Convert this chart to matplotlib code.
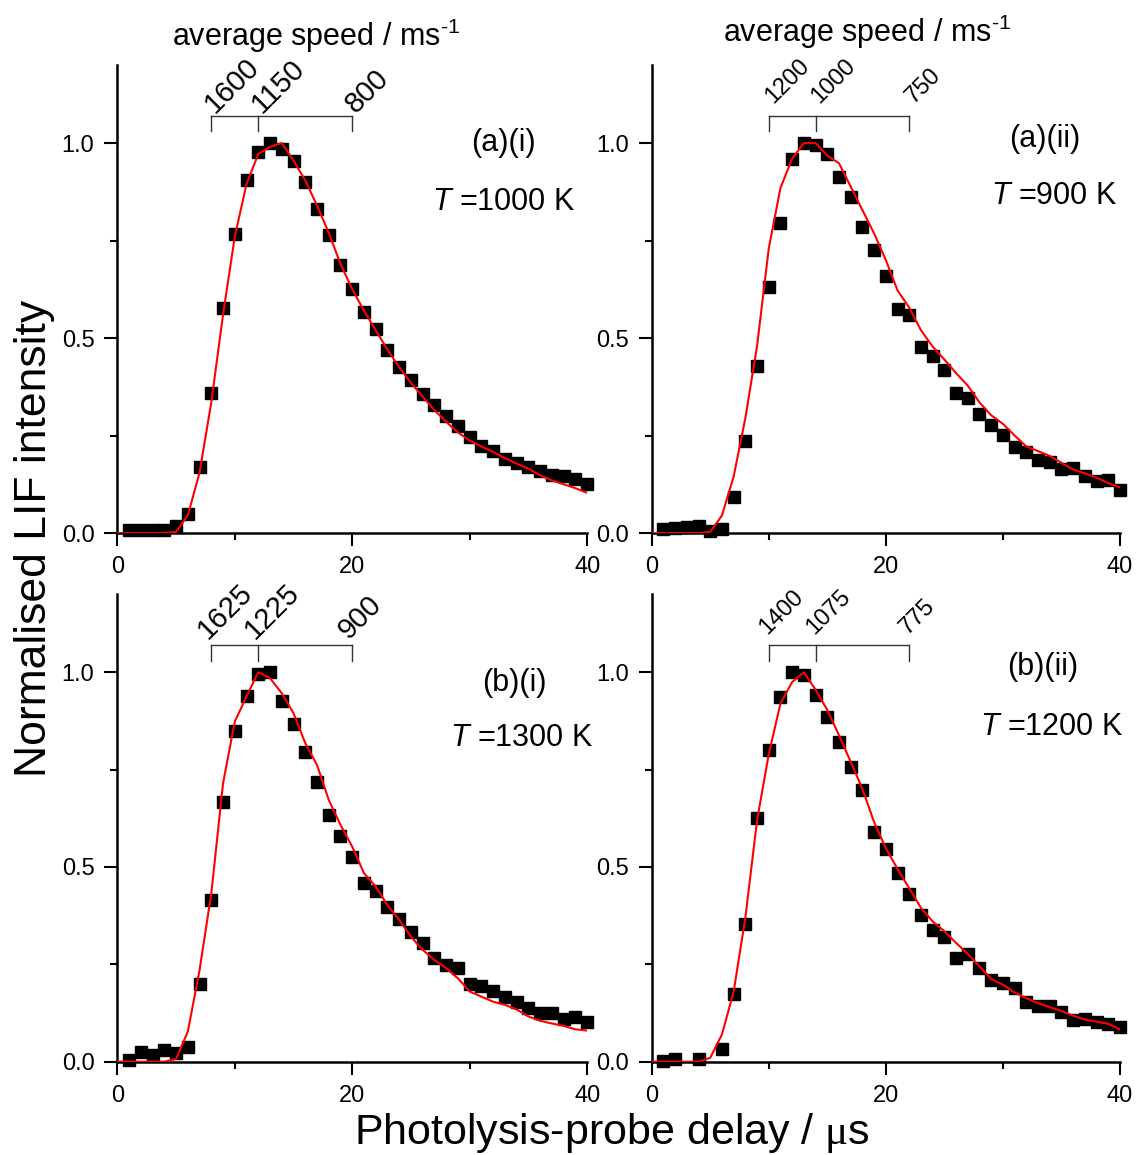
"""Four-panel LIF time-of-flight profiles: measured points vs. simulated fits."""
import matplotlib

matplotlib.use("Agg")
import matplotlib.pyplot as plt
import numpy as np
from matplotlib.ticker import FixedLocator, FormatStrFormatter

# --------------------------------------------------------------------------- #
# Data
# --------------------------------------------------------------------------- #
fit_delay = np.arange(0, 41)

a1_delay = np.arange(1, 41)
a1_signal = [0.008, 0.008, 0.008, 0.008, 0.017, 0.049, 0.169, 0.359, 0.577, 0.766,
             0.906, 0.976, 1.000, 0.985, 0.954, 0.900, 0.831, 0.765, 0.688, 0.626,
             0.566, 0.522, 0.470, 0.427, 0.393, 0.357, 0.328, 0.300, 0.274, 0.246,
             0.224, 0.210, 0.190, 0.179, 0.169, 0.158, 0.150, 0.145, 0.139, 0.126]
a1_fit = [0, 0, 0, 0, 0, 0.003, 0.045, 0.155, 0.335, 0.560, 0.760,
          0.895, 0.972, 0.990, 1.000, 0.955, 0.904, 0.840, 0.770, 0.690, 0.625,
          0.570, 0.520, 0.470, 0.425, 0.385, 0.350, 0.315, 0.285, 0.258, 0.237,
          0.222, 0.208, 0.192, 0.178, 0.165, 0.148, 0.135, 0.125, 0.115, 0.103]

a2_delay = np.arange(1, 41)
a2_signal = [0.010, 0.012, 0.016, 0.019, 0.006, 0.010, 0.093, 0.235, 0.429, 0.630,
             0.795, 0.960, 1.000, 0.994, 0.971, 0.913, 0.861, 0.784, 0.726, 0.660,
             0.575, 0.558, 0.478, 0.455, 0.417, 0.359, 0.346, 0.305, 0.277, 0.252,
             0.220, 0.209, 0.187, 0.183, 0.164, 0.166, 0.145, 0.133, 0.137, 0.110]
a2_fit = [0, 0, 0, 0, 0, 0.003, 0.045, 0.145, 0.295, 0.480, 0.730,
          0.885, 0.960, 1.000, 1.000, 0.968, 0.948, 0.888, 0.828, 0.768, 0.700,
          0.622, 0.578, 0.520, 0.478, 0.445, 0.410, 0.378, 0.335, 0.302, 0.280,
          0.250, 0.222, 0.210, 0.198, 0.180, 0.163, 0.153, 0.142, 0.128, 0.117]

b1_delay = np.arange(1, 41)
b1_signal = [0.004, 0.026, 0.017, 0.030, 0.021, 0.037, 0.199, 0.415, 0.666, 0.848,
             0.940, 0.996, 1.000, 0.927, 0.866, 0.794, 0.717, 0.634, 0.580, 0.525,
             0.458, 0.438, 0.396, 0.367, 0.334, 0.306, 0.267, 0.248, 0.240, 0.199,
             0.194, 0.182, 0.165, 0.154, 0.137, 0.124, 0.124, 0.109, 0.114, 0.101]
b1_fit = [0, 0, 0, 0, 0, 0.007, 0.077, 0.235, 0.432, 0.715, 0.873,
          0.938, 1.000, 0.985, 0.946, 0.895, 0.818, 0.762, 0.672, 0.608, 0.552,
          0.484, 0.450, 0.402, 0.364, 0.321, 0.287, 0.261, 0.240, 0.214, 0.180,
          0.167, 0.154, 0.146, 0.134, 0.116, 0.105, 0.098, 0.092, 0.083, 0.080]

b2_delay = [1, 2, 4, 6, 7, 8, 9, 10, 11, 12, 13, 14, 15, 16, 17, 18, 19, 20, 21, 22,
            23, 24, 25, 26, 27, 28, 29, 30, 31, 32, 33, 34, 35, 36, 37, 38, 39, 40]
b2_signal = [0.003, 0.007, 0.006, 0.033, 0.173, 0.353, 0.627, 0.800, 0.936, 1.000,
             0.993, 0.942, 0.886, 0.820, 0.757, 0.698, 0.591, 0.545, 0.485, 0.430,
             0.377, 0.338, 0.321, 0.267, 0.277, 0.241, 0.210, 0.201, 0.188, 0.152,
             0.144, 0.144, 0.127, 0.107, 0.110, 0.101, 0.098, 0.088]
b2_fit = [0, 0, 0, 0, 0, 0.010, 0.070, 0.180, 0.370, 0.620, 0.790,
          0.920, 0.975, 1.000, 0.955, 0.903, 0.838, 0.770, 0.700, 0.615, 0.548,
          0.495, 0.445, 0.395, 0.360, 0.335, 0.305, 0.277, 0.245, 0.212, 0.198,
          0.178, 0.163, 0.150, 0.140, 0.130, 0.118, 0.108, 0.103, 0.097, 0.083]

# delay (us) marked on the speed bracket, and the speed it corresponds to
a1_bracket = [8, 12, 20]
a1_speeds = ["1600", "1150", "800"]
a2_bracket = [10, 14, 22]
a2_speeds = ["1200", "1000", "750"]
b1_bracket = [8, 12, 20]
b1_speeds = ["1625", "1225", "900"]
b2_bracket = [10, 14, 22]
b2_speeds = ["1400", "1075", "775"]

panel_tags = ["(a)(i)", "(a)(ii)", "(b)(i)", "(b)(ii)"]
temperatures = ["1000", "900", "1300", "1200"]

# --------------------------------------------------------------------------- #
# Style
# --------------------------------------------------------------------------- #
plt.rcParams["font.family"] = ["Liberation Sans", "DejaVu Sans"]
plt.rcParams["mathtext.fontset"] = "custom"
plt.rcParams["mathtext.rm"] = "Liberation Sans"
plt.rcParams["mathtext.it"] = "Liberation Sans:italic"
plt.rcParams["mathtext.cal"] = "Liberation Serif"

fig = plt.figure(figsize=(11.37, 11.55), dpi=100)

# left, bottom, width, height (figure fraction)
positions = [
    [0.1032, 0.5385, 0.4132, 0.4052],
    [0.5732, 0.5385, 0.4118, 0.4052],
    [0.1032, 0.0808, 0.4132, 0.4046],
    [0.5732, 0.0808, 0.4118, 0.4046],
]
panels = [
    (a1_delay, a1_signal, a1_fit, a1_bracket, a1_speeds),
    (a2_delay, a2_signal, a2_fit, a2_bracket, a2_speeds),
    (b1_delay, b1_signal, b1_fit, b1_bracket, b1_speeds),
    (b2_delay, b2_signal, b2_fit, b2_bracket, b2_speeds),
]
# per-panel cosmetic tweaks: speed-label font size, label x-offset, label y,
# tag (x, y), temperature (x, y)
cosmetics = [
    (21, -0.3, 1.075, (32.9, 1.00), (32.9, 0.85)),
    (17, -0.35, 1.100, (33.6, 1.01), (34.4, 0.864)),
    (21, 0.3, 1.082, (33.8, 0.972), (34.4, 0.831)),
    (17, 0.1, 1.095, (33.4, 1.013), (34.2, 0.86)),
]
speed_title = r"average speed / ms$^{\text{-1}}$"

for i, (pos, (dx, dy, fy, bracket, speeds), cos) in enumerate(zip(positions, panels, cosmetics)):
    ax = fig.add_axes(pos)
    lab_fs, lab_dx, lab_y, tag_xy, temp_xy = cos

    ax.plot(dx, dy, ls="none", marker="s", ms=8.8, color="black", mec="black",
            clip_on=False, zorder=3)
    ax.plot(fit_delay, fy, color="red", lw=1.5, zorder=4)

    ax.set_xlim(0, 40)
    ax.set_ylim(0, 1.2)
    for side in ("top", "right"):
        ax.spines[side].set_visible(False)
    for side in ("left", "bottom"):
        ax.spines[side].set_linewidth(1.8)

    ax.xaxis.set_major_locator(FixedLocator([0, 20, 40]))
    ax.xaxis.set_minor_locator(FixedLocator([10, 30]))
    ax.yaxis.set_major_locator(FixedLocator([0.0, 0.5, 1.0]))
    ax.yaxis.set_minor_locator(FixedLocator([0.25, 0.75]))
    ax.yaxis.set_major_formatter(FormatStrFormatter("%.1f"))
    ax.tick_params(which="major", direction="out", length=9.5, width=1.5,
                   labelsize=17, pad=7)
    ax.tick_params(which="minor", direction="out", length=5, width=1.5)

    # speed bracket above the peak
    ax.plot([bracket[0], bracket[-1]], [1.07, 1.07], color="#333333", lw=1.0,
            clip_on=False)
    for b, s in zip(bracket, speeds):
        ax.plot([b, b], [1.03, 1.07], color="#333333", lw=1.0, clip_on=False)
        ax.text(b - lab_dx, lab_y, s, rotation=45, rotation_mode="anchor",
                ha="left", va="baseline", fontsize=lab_fs)

    ax.text(*tag_xy, panel_tags[i], ha="center", va="center", fontsize=22)
    ax.text(*temp_xy, "$T$ =" + temperatures[i] + " K", ha="center", va="center",
            fontsize=22)

    if i == 0:
        ax.text(16.9, 1.274, speed_title, ha="center", va="center",
                fontsize=22, clip_on=False)
    elif i == 1:
        ax.text(18.4, 1.285, speed_title, ha="center", va="center",
                fontsize=22, clip_on=False)

fig.text(0.030, 0.534, "Normalised LIF intensity", rotation=90, ha="center",
         va="center", fontsize=32)
fig.text(0.538, 0.019, r"Photolysis-probe delay / $\mathcal{\mu}$s", ha="center",
         va="center", fontsize=31)

fig.savefig("out.png", dpi=100)
